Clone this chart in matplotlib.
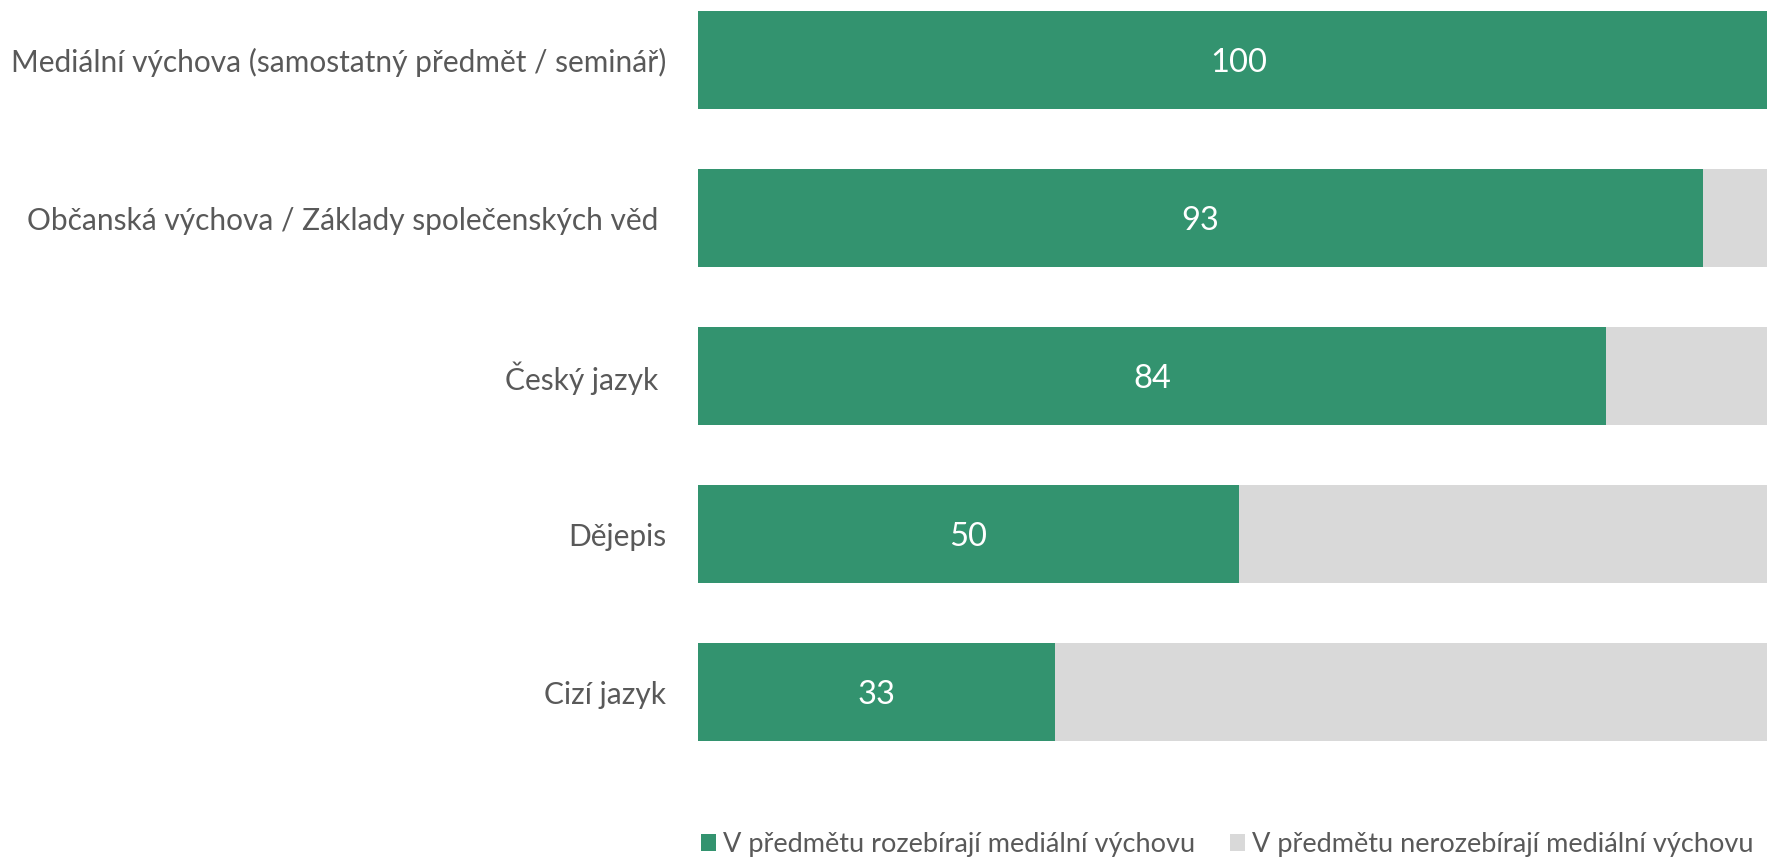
import matplotlib.pyplot as plt

plt.rcParams['font.family'] = ['Lato', 'DejaVu Sans']

subjects = [
    "Mediální výchova (samostatný předmět / seminář)",
    "Občanská výchova / Základy společenských věd ",
    "Český jazyk ",
    "Dějepis",
    "Cizí jazyk",
]
yes_vals = [100, 93, 84, 50, 33]
no_vals = [0, 7, 16, 50, 67]

series_names = ["V předmětu rozebírají mediální výchovu",
                "V předmětu nerozebírají mediální výchovu"]
green = "#33936f"
grey = "#d9d9d9"
text_grey = "#595959"

W, H = 1767, 859
fig = plt.figure(figsize=(W / 100, H / 100), dpi=100)
# axes a bit wider than the canvas, the original picture is cropped on the right
ax = fig.add_axes([698 / W, 1 - 771 / H, (1779 - 698) / W, 790 / H])

pos = list(range(len(subjects)))
ax.barh(pos, yes_vals, height=0.62, color=green, label=series_names[0])
ax.barh(pos, no_vals, left=yes_vals, height=0.62, color=grey, label=series_names[1])

for y, v in zip(pos, yes_vals):
    ax.text(v / 2, y, str(v), ha="center", va="center_baseline", color="white", fontsize=23.5)

ax.set_xlim(0, 100)
ax.set_ylim(len(subjects) - 0.5, -0.5)
ax.set_yticks(pos)
ax.set_yticklabels(subjects, fontsize=21.5, color=text_grey)
for lbl in ax.get_yticklabels():
    lbl.set_va("center_baseline")
ax.tick_params(axis="y", length=0, pad=23)
ax.set_xticks([])
for s in ax.spines.values():
    s.set_visible(False)

fig.legend(loc="lower center", bbox_to_anchor=(1227 / W, -0.015), ncol=2, frameon=False,
           fontsize=19.5, labelcolor=text_grey, handlelength=0.56, handleheight=0.56,
           handletextpad=0.25, columnspacing=1.3, borderpad=0.05)

fig.savefig("out.png", dpi=100)
